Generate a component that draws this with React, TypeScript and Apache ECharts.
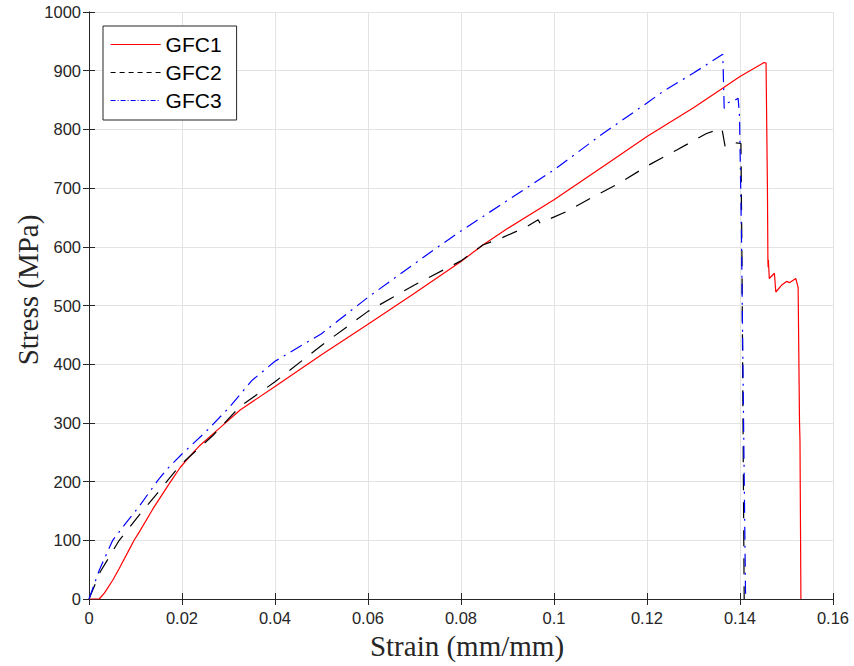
import React, { useEffect, useRef } from "react";
import * as echarts from "echarts";

const seriesNames = ["GFC1", "GFC2", "GFC3"];

const strainGFC1 = [0, 0.0022, 0.0033, 0.0051, 0.0065, 0.0087, 0.0097, 0.0108, 0.0137, 0.0173, 0.0196, 0.022, 0.0239, 0.0282, 0.0325, 0.04, 0.05, 0.06, 0.07, 0.08, 0.0847, 0.09, 0.1, 0.11, 0.12, 0.13, 0.1357, 0.14, 0.1452, 0.1456, 0.1459, 0.146, 0.14605, 0.1461, 0.1463, 0.1474, 0.1477, 0.149, 0.15, 0.1507, 0.152, 0.1525, 0.1528, 0.1529, 0.1531];
const stressGFC1 = [0, 0, 10, 32, 52, 85, 100, 114, 153, 197, 224, 246, 262, 292, 322, 362, 416, 468, 521, 575, 603, 631, 680, 734, 788, 837, 867, 890, 914, 913, 700, 577, 565, 578, 546, 555, 523, 535, 541, 539, 546, 531, 300, 271, 0];

const strainGFC2 = [0, 0.0024, 0.0065, 0.011, 0.0153, 0.017, 0.0196, 0.0267, 0.0325, 0.04, 0.05, 0.06, 0.07, 0.08, 0.0847, 0.0884, 0.0941, 0.0966, 0.097, 0.0977, 0.1027, 0.1084, 0.1142, 0.1201, 0.1264, 0.1328, 0.1357, 0.1361, 0.1368, 0.1382, 0.1392, 0.1402, 0.1404, 0.1409];
const stressGFC2 = [0, 46, 100, 145, 186, 203, 228, 279, 328, 370, 432, 490, 535, 576, 603, 614, 634, 646, 640, 643, 660, 685, 709, 738, 765, 793, 801, 802, 771, 778, 777, 776, 600, 0];

const strainGFC3 = [0, 0.0022, 0.0051, 0.008, 0.0108, 0.0148, 0.017, 0.02, 0.025, 0.03, 0.035, 0.04, 0.05, 0.06, 0.074, 0.0798, 0.09, 0.1, 0.11, 0.12, 0.1235, 0.13, 0.1363, 0.1366, 0.1368, 0.1372, 0.1385, 0.1396, 0.1399, 0.1403, 0.1412];
const stressGFC3 = [0, 49, 100, 130, 158, 202, 223, 247, 284, 325, 372, 405, 452, 514, 594, 626, 679, 731, 790, 845, 865, 896, 928, 836, 838, 845, 848, 853, 822, 629, 0];

const xTicks = [0, 0.02, 0.04, 0.06, 0.08, 0.1, 0.12, 0.14, 0.16];
const yTicks = [0, 100, 200, 300, 400, 500, 600, 700, 800, 900, 1000];

const AXIS_COLOR = "#262626";
const GRID_COLOR = "#e3e3e3";

function pairs(xs: number[], ys: number[]) {
  return xs.map((x, i) => [x, ys[i]]);
}

export default function App() {
  const ref = useRef<HTMLDivElement>(null);
  useEffect(() => {
    if (!ref.current) return;
    const chart = echarts.init(ref.current, null, { renderer: "svg" });
    const labelStyle = {
      color: AXIS_COLOR,
      fontFamily: "Liberation Sans, Arial, sans-serif",
      fontSize: 16.5,
    };
    const baseX = {
      type: "value" as const,
      min: xTicks[0],
      max: xTicks[xTicks.length - 1],
      interval: 0.02,
      axisLine: { show: true, lineStyle: { color: AXIS_COLOR, width: 1 } },
      axisTick: { show: true, inside: true, length: 6, lineStyle: { color: AXIS_COLOR } },
    };
    const baseY = {
      type: "value" as const,
      min: yTicks[0],
      max: yTicks[yTicks.length - 1],
      interval: 100,
      axisLine: { show: true, lineStyle: { color: AXIS_COLOR, width: 1 } },
      axisTick: { show: true, inside: true, length: 6, lineStyle: { color: AXIS_COLOR } },
    };
    chart.setOption({
      animation: false,
      backgroundColor: "#ffffff",
      grid: { left: 89, top: 12, right: 21, bottom: 67, containLabel: false },
      xAxis: [
        {
          ...baseX,
          position: "bottom",
          axisLabel: { ...labelStyle, margin: 10, formatter: (v: number) => String(+v.toFixed(2)) },
          splitLine: { show: true, lineStyle: { color: GRID_COLOR, width: 1 } },
        },
        {
          ...baseX,
          position: "top",
          axisLabel: { show: false },
          splitLine: { show: false },
        },
      ],
      yAxis: [
        {
          ...baseY,
          position: "left",
          axisLabel: { ...labelStyle, margin: 8, formatter: (v: number) => String(Math.round(v)) },
          splitLine: { show: true, lineStyle: { color: GRID_COLOR, width: 1 } },
        },
        {
          ...baseY,
          position: "right",
          axisLabel: { show: false },
          splitLine: { show: false },
        },
      ],
      legend: {
        orient: "vertical",
        left: 103,
        top: 26,
        padding: [8, 15, 9, 7],
        itemGap: 7,
        itemWidth: 50,
        itemHeight: 14,
        backgroundColor: "#ffffff",
        borderColor: AXIS_COLOR,
        borderWidth: 1,
        borderRadius: 0,
        itemStyle: { opacity: 0 },
        textStyle: {
          color: "#000000",
          fontFamily: "Liberation Sans, Arial, sans-serif",
          fontSize: 21,
          lineHeight: 21,
        },
        data: [
          { name: seriesNames[0], itemStyle: { opacity: 0 }, lineStyle: { color: "#ff0000", width: 1.2, type: "solid", opacity: 1 } },
          { name: seriesNames[1], itemStyle: { opacity: 0 }, lineStyle: { color: "#000000", width: 1.2, type: [5, 4], opacity: 1 } },
          { name: seriesNames[2], itemStyle: { opacity: 0 }, lineStyle: { color: "#0000ff", width: 1.2, type: [5, 2, 1, 2], opacity: 1 } },
        ],
      },
      series: [
        {
          name: seriesNames[0],
          type: "line",
          data: pairs(strainGFC1, stressGFC1),
          symbol: "none",
          showSymbol: false,
          lineStyle: { color: "#ff0000", width: 1.2, type: "solid" },
          itemStyle: { color: "#ff0000" },
        },
        {
          name: seriesNames[1],
          type: "line",
          data: pairs(strainGFC2, stressGFC2),
          symbol: "none",
          showSymbol: false,
          lineStyle: { color: "#000000", width: 1.2, type: [16, 12] },
          itemStyle: { color: "#000000" },
        },
        {
          name: seriesNames[2],
          type: "line",
          data: pairs(strainGFC3, stressGFC3),
          symbol: "none",
          showSymbol: false,
          lineStyle: { color: "#0000ff", width: 1.2, type: [13, 6, 2, 6] },
          itemStyle: { color: "#0000ff" },
        },
      ],
      graphic: [
        {
          type: "text",
          x: 467,
          y: 646,
          style: {
            text: "Strain (mm/mm)",
            align: "center",
            verticalAlign: "middle",
            fontFamily: "Liberation Serif, Times New Roman, serif",
            fontSize: 29,
            fill: AXIS_COLOR,
          },
        },
        {
          type: "text",
          x: 28,
          y: 290,
          rotation: Math.PI / 2,
          style: {
            text: "Stress (MPa)",
            align: "center",
            verticalAlign: "middle",
            fontFamily: "Liberation Serif, Times New Roman, serif",
            fontSize: 29,
            fill: AXIS_COLOR,
          },
        },
      ],
    });
    return () => chart.dispose();
  }, []);
  return <div ref={ref} style={{ width: 854, height: 666, position: "absolute", left: 0, top: 0 }} />;
}
